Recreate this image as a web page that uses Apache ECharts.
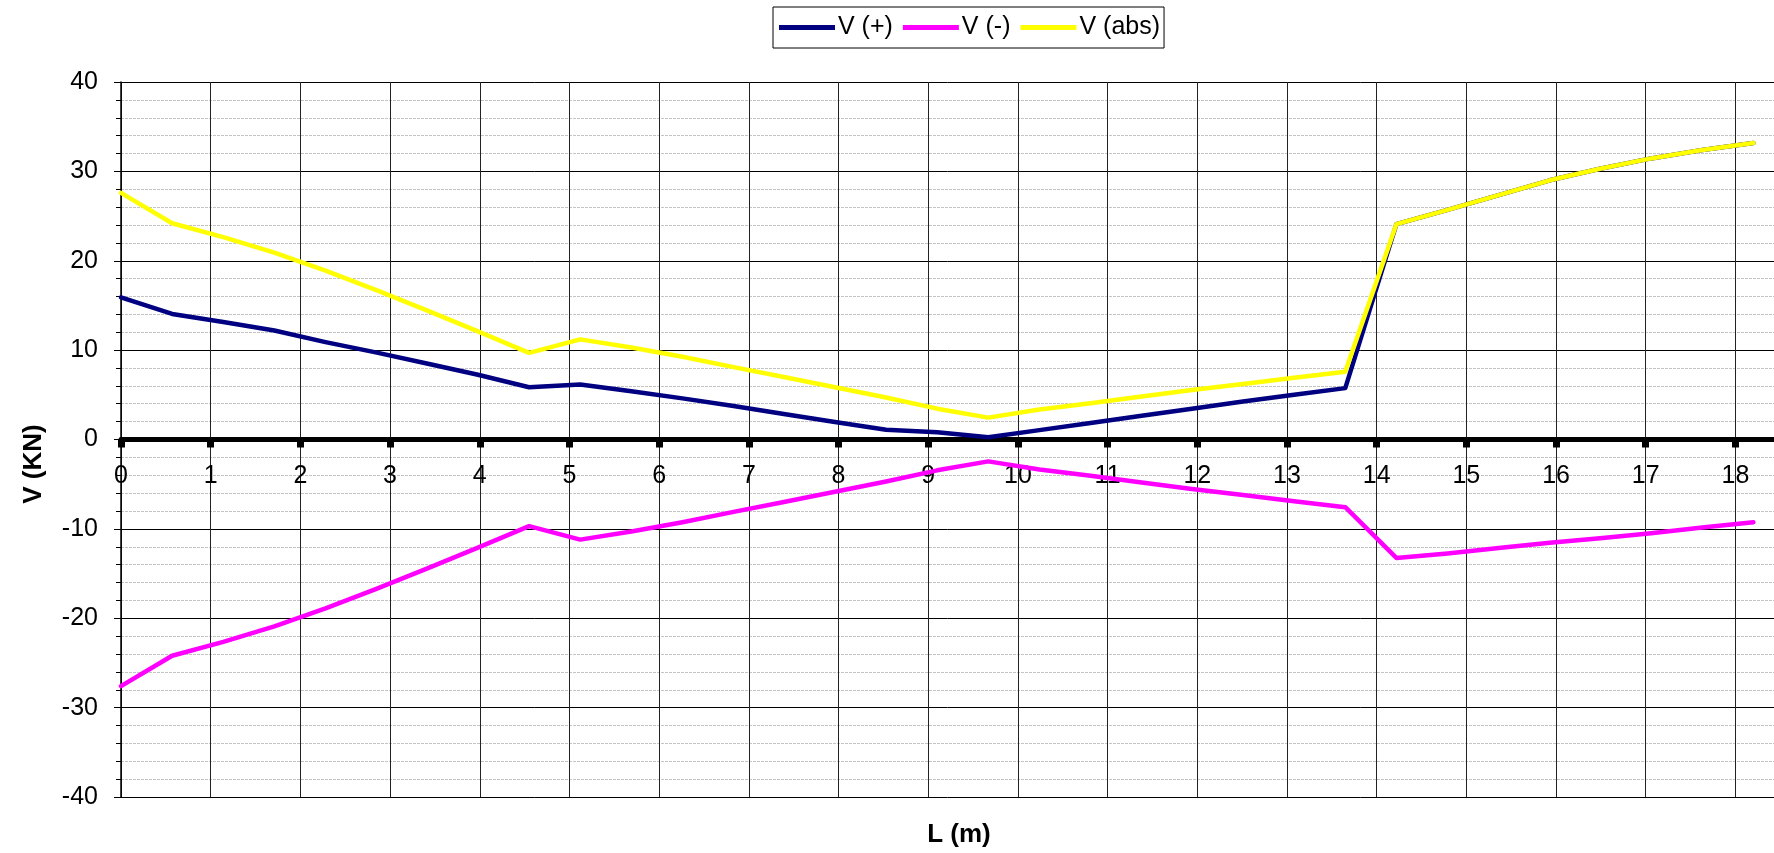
<!DOCTYPE html>
<html>
<head>
<meta charset="utf-8">
<script src="https://cdn.jsdelivr.net/npm/echarts@6/dist/echarts.min.js"></script>
<style>
  html, body { margin: 0; padding: 0; background: #fff; }
  #chart { width: 1774px; height: 853px; }
</style>
</head>
<body>
<div id="chart"></div>
<script>
// positions along the beam (m)
var L = [0, 0.57, 1.14, 1.71, 2.28, 2.84, 3.41, 3.98, 4.55,
         5.12, 5.69, 6.26, 6.83, 7.39, 7.96, 8.53, 9.10, 9.67,
         10.24, 10.81, 11.38, 11.94, 12.51, 13.08, 13.65,
         14.22, 14.79, 15.36, 15.93, 16.49, 17.06, 17.63, 18.20];

// V (+)
var vPlus = [15.9, 14.05, 13.15, 12.2, 10.9, 9.75, 8.5, 7.25, 5.85,
             6.15, 5.4, 4.6, 3.75, 2.85, 1.95, 1.1, 0.8, 0.25,
             1.05, 1.85, 2.65, 3.45, 4.25, 5.0, 5.75,
             24.1, 25.7, 27.35, 29.0, 30.3, 31.45, 32.4, 33.17];

// V (-)
var vMinus = [-27.6, -24.2, -22.65, -20.9, -18.9, -16.75, -14.45, -12.1, -9.7,
              -11.2, -10.3, -9.25, -8.1, -7.0, -5.85, -4.7, -3.45, -2.45,
              -3.35, -4.05, -4.8, -5.55, -6.2, -6.9, -7.57,
              -13.25, -12.75, -12.15, -11.55, -11.05, -10.5, -9.85, -9.25];

// V (abs)
var vAbs = [27.6, 24.2, 22.65, 20.9, 18.9, 16.75, 14.45, 12.1, 9.7,
            11.2, 10.3, 9.25, 8.1, 7.0, 5.85, 4.7, 3.45, 2.45,
            3.35, 4.05, 4.8, 5.55, 6.2, 6.9, 7.57,
            24.1, 25.7, 27.35, 29.0, 30.3, 31.45, 32.4, 33.17];

var seriesNames = ['V (+)', 'V (-)', 'V (abs)'];
var seriesColors = ['#000080', '#FF00FF', '#FFFF00'];

function pairs(ys) {
  return L.map(function (x, i) { return [x, ys[i]]; });
}

var font = 'Arial, "Liberation Sans", sans-serif';

var chart = echarts.init(document.getElementById('chart'));

var option = {
  backgroundColor: '#fff',
  animation: false,
  color: seriesColors,
  grid: {
    left: 121,
    right: 0,
    top: 82,
    bottom: 56,
    containLabel: false
  },
  legend: {
    data: seriesNames,
    left: 773,
    top: 7,
    padding: [8, 4, 8, 6],
    borderColor: '#000',
    borderWidth: 1,
    itemWidth: 56,
    itemHeight: 5,
    itemGap: 10,
    icon: 'rect',
    textStyle: { fontFamily: font, fontSize: 25, color: '#000', padding: [0, 0, 0, -2] }
  },
  xAxis: {
    type: 'value',
    min: 0,
    max: 18.43,
    interval: 1,
    axisLine: { onZero: true, lineStyle: { color: '#000', width: 5 } },
    axisTick: { show: true, length: 8, lineStyle: { color: '#000', width: 7 } },
    axisLabel: {
      showMaxLabel: false,
      // labels sit just under the zero line, not at the bottom of the plot
      margin: -333,
      fontFamily: font,
      fontSize: 25,
      color: '#000'
    },
    splitLine: { show: true, lineStyle: { color: '#222', width: 1 } }
  },
  yAxis: {
    type: 'value',
    min: -40,
    max: 40,
    interval: 10,
    axisLine: { show: true, onZero: false, lineStyle: { color: '#000', width: 1.5 } },
    axisTick: { show: true, length: 7, lineStyle: { color: '#000' } },
    minorTick: { show: true, splitNumber: 5, length: 5, lineStyle: { color: '#000' } },
    axisLabel: { margin: 23, fontFamily: font, fontSize: 25, color: '#000' },
    splitLine: { show: true, lineStyle: { color: '#000', width: 1 } },
    minorSplitLine: { show: true, lineStyle: { color: '#c4c4c4', width: 1, type: [3, 1] } }
  },
  graphic: [
    {
      type: 'text',
      x: 34,
      y: 464,
      rotation: Math.PI / 2,
      style: {
        text: 'V (KN)',
        font: 'bold 26px ' + font,
        fill: '#000',
        align: 'center',
        verticalAlign: 'middle'
      }
    },
    {
      type: 'text',
      x: 959,
      y: 835,
      style: {
        text: 'L (m)',
        font: 'bold 26px ' + font,
        fill: '#000',
        align: 'center',
        verticalAlign: 'middle'
      }
    }
  ],
  series: [
    { name: seriesNames[0], type: 'line', data: pairs(vPlus), showSymbol: false, symbol: 'none',
      lineStyle: { width: 4.5, color: seriesColors[0], cap: 'round', join: 'round' }, z: 3 },
    { name: seriesNames[1], type: 'line', data: pairs(vMinus), showSymbol: false, symbol: 'none',
      lineStyle: { width: 4.5, color: seriesColors[1], cap: 'round', join: 'round' }, z: 4 },
    { name: seriesNames[2], type: 'line', data: pairs(vAbs), showSymbol: false, symbol: 'none',
      lineStyle: { width: 4.5, color: seriesColors[2], cap: 'round', join: 'round' }, z: 5 }
  ]
};

chart.setOption(option);
</script>
</body>
</html>
